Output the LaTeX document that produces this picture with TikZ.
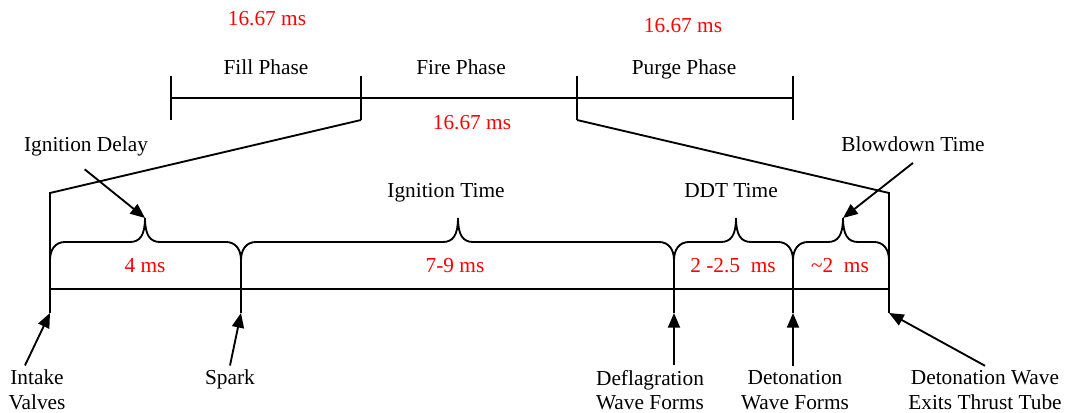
\documentclass[tikz,border=0pt]{standalone}
\usepackage{fontspec}
\setmainfont{Liberation Serif}
\usetikzlibrary{arrows.meta}
\tikzset{
  tline/.style={line width=1.4pt},
  lbl/.style={font=\fontsize{16}{18.5}\selectfont,align=center,anchor=base},
  ms/.style={lbl,text=red},
  pointer/.style={line width=1.4pt,-{Triangle[length=11pt,width=9pt]}}
}
% brace over one stage: left x, right x, tip x
\newcommand\timebrace[3]{%
  \draw[tline] (#1,260) .. controls (#1,250) and ({#1+5},242) .. ({#1+15},242)
    -- ({#3-15},242) .. controls ({#3-5},242) and (#3,235) .. (#3,218)
    .. controls (#3,235) and ({#3+5},242) .. ({#3+15},242)
    -- ({#2-15},242) .. controls ({#2-5},242) and (#2,250) .. (#2,260);}
\begin{document}
\begin{tikzpicture}[x=.75pt,y=-.75pt]
\useasboundingbox (0,0) rectangle (1065,413);
% phase axis
\draw[tline](171,98)--(793,98);
\foreach \x in {171,361,577,793}{\draw[tline](\x,76)--(\x,120);}
\draw[tline](361,120)--(50,193)--(50,313);
\draw[tline](577,120)--(889,193)--(889,313);
\node[ms] (fillms) at (267,26){16.67 ms};
\node[ms] (purgems) at (683,33){16.67 ms};
\node[ms] (firems) at (472,130){16.67 ms};
\node[lbl] (fill) at (266,75){Fill Phase};
\node[lbl] (fire) at (461,75){Fire Phase};
\node[lbl] (purge) at (684,75){Purge Phase};
% cycle axis
\draw[tline](50,289)--(889,289);
\foreach \x in {241,674,793}{\draw[tline](\x,260)--(\x,313);}
\timebrace{50}{241}{145}
\timebrace{241}{674}{458}
\timebrace{674}{793}{736}
\timebrace{793}{889}{843}
\node[ms] (delayms) at (145,273){4 ms};
\node[ms] (ignms) at (455,273){7-9 ms};
\node[ms] (ddtms) at (733,273){2 -2.5\ \ ms};
\node[ms] (blowms) at (840,273){\textasciitilde 2\ \ ms};
\node[lbl] (igdelay) at (86,152){Ignition Delay};
\node[lbl] (igtime) at (446,198){Ignition Time};
\node[lbl] (ddt) at (731,198){DDT Time};
\node[lbl] (blow) at (913,152){Blowdown Time};
\coordinate (idtip) at (145,218);
\coordinate (bdtip) at (843,218);
\draw[pointer]([xshift=-1pt,yshift=-6pt]igdelay.south)--(idtip);
\draw[pointer]([yshift=-4.5pt]blow.south)--(bdtip);
% events
\coordinate (iv) at (50,313);\coordinate (sp) at (241,313);
\coordinate (df) at (674,313);\coordinate (dt) at (793,313);
\coordinate (ex) at (889,313);
\node[lbl,anchor=center] (intake) at (37,390){Intake\\Valves};
\node[lbl] (spark) at (230,385){Spark};
\node[lbl,anchor=center] (deflag) at (650,390){Deflagration\\Wave Forms};
\node[lbl,anchor=center] (deton) at (795,390){Detonation\\Wave Forms};
\node[lbl,anchor=center] (exits) at (985,390){Detonation Wave\\Exits Thrust Tube};
\draw[pointer]([xshift=-9pt]intake.north)--(iv);
\draw[pointer](spark.north)--(sp);
\draw[pointer](deflag.north -| df)--(df);
\draw[pointer](deton.north -| dt)--(dt);
\draw[pointer](exits.north)--(ex);
\end{tikzpicture}
\end{document}
